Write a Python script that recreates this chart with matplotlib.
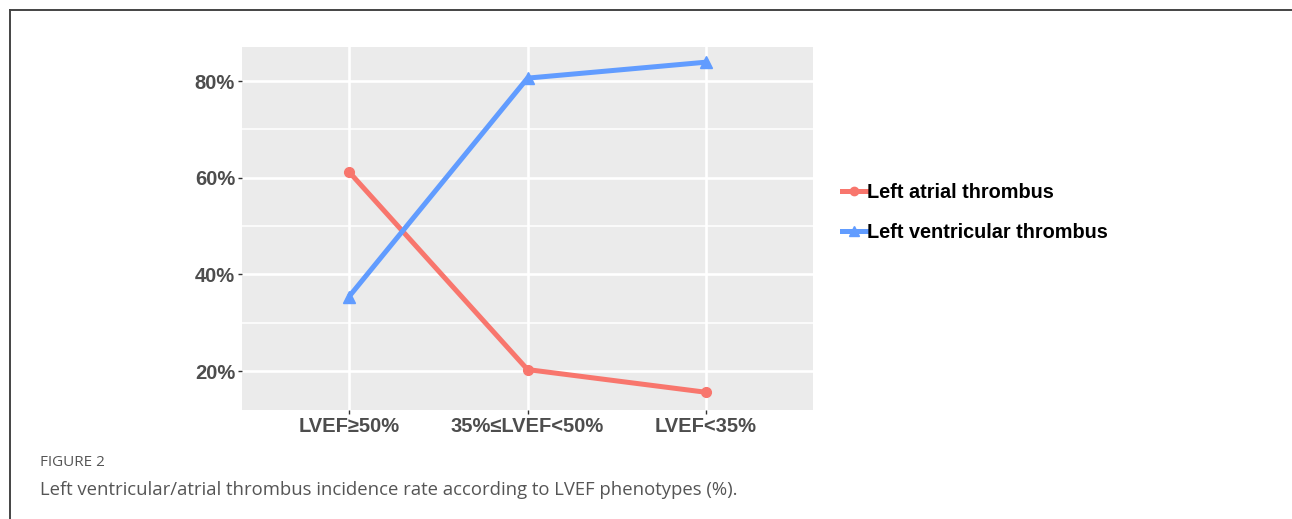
import matplotlib.pyplot as plt
from matplotlib.lines import Line2D
from matplotlib.ticker import FuncFormatter

# data
groups = ['LVEF≥50%', '35%≤LVEF<50%', 'LVEF<35%']
atrial = [61.2, 20.3, 15.6]
ventricular = [35.4, 80.6, 83.9]
series_names = ['Left atrial thrombus', 'Left ventricular thrombus']

RED = '#F8766D'
BLUE = '#619CFF'
TXT = '#4D4D4D'

plt.rcParams['font.family'] = ['Liberation Sans', 'DejaVu Sans']

fig = plt.figure(figsize=(12.92, 5.19), dpi=100)
ax = fig.add_axes([0.1873, 0.21, 0.6293 - 0.1873, 0.70])

x = list(range(len(groups)))
ax.plot(x, atrial, color=RED, lw=3.6, marker='o', ms=7, solid_capstyle='butt', zorder=3)
ax.plot(x, ventricular, color=BLUE, lw=3.6, marker='^', ms=9, solid_capstyle='butt', zorder=3)

ax.set_facecolor('#EBEBEB')
for s in ax.spines.values():
    s.set_visible(False)
ax.set_xlim(-0.6, 2.6)
ax.set_ylim(11.93, 87.1)
ax.set_xticks(x)
ax.set_xticklabels(groups)
ax.set_yticks([20, 40, 60, 80])
ax.set_yticks([30, 50, 70], minor=True)
ax.yaxis.set_major_formatter(FuncFormatter(lambda v, p: f'{v:.0f}%'))
ax.grid(True, which='major', color='white', lw=1.9)
ax.grid(True, which='minor', axis='y', color='white', lw=1.1)
ax.set_axisbelow(True)
ax.tick_params(which='major', length=3, width=1, color='#333333', pad=2,
               labelcolor=TXT, labelsize=14.5)
ax.tick_params(which='minor', length=0)
for lab in ax.get_xticklabels() + ax.get_yticklabels():
    lab.set_fontweight('bold')

handles = [Line2D([], [], color=RED, lw=3.6, marker='o', ms=6),
           Line2D([], [], color=BLUE, lw=3.6, marker='^', ms=7)]
leg = fig.legend(handles, series_names, loc='center left',
                 bbox_to_anchor=(0.638, 0.590), frameon=False,
                 handlelength=1.2, handletextpad=0.05, labelspacing=1.05,
                 prop={'weight': 'bold', 'size': 14.3})

# caption and frame
fig.text(40 / 1292, 1 - 463 / 519, 'FIGURE 2', family='Open Sans', fontsize=11,
         color='#555555', va='center')
fig.text(40 / 1292, 1 - 490 / 519,
         'Left ventricular/atrial thrombus incidence rate according to LVEF phenotypes (%).',
         family='Open Sans', fontsize=13.3, color='#555555', va='center')
fig.add_artist(Line2D([10 / 1292, 1], [1 - 10 / 519, 1 - 10 / 519], color='#444444', lw=1.4))
fig.add_artist(Line2D([10 / 1292, 10 / 1292], [0, 1 - 10 / 519], color='#444444', lw=1.4))

fig.savefig('out.png', dpi=100)
